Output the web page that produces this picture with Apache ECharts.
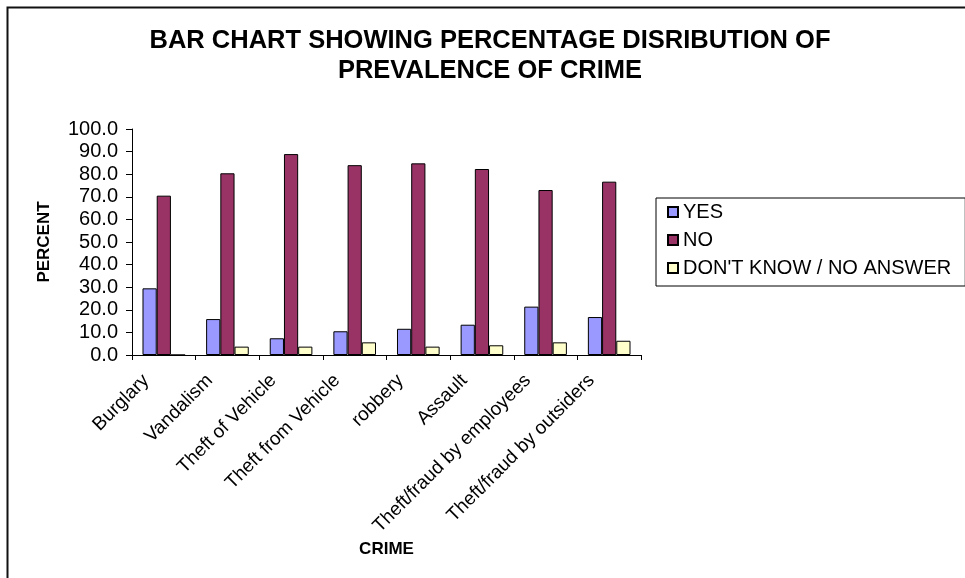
<!DOCTYPE html>
<html>
<head>
<meta charset="utf-8">
<script src="https://cdn.jsdelivr.net/npm/echarts@6/dist/echarts.min.js"></script>
<style>
  html, body { margin: 0; padding: 0; background: #fff; }
  #chart { width: 965px; height: 578px; }
</style>
</head>
<body>
<div id="chart"></div>
<script>
// Crime categories along the x axis
const crimes = [
  'Burglary', 'Vandalism', 'Theft of Vehicle', 'Theft from Vehicle',
  'robbery', 'Assault', 'Theft/fraud by employees', 'Theft/fraud by outsiders'
];
// Percentage of respondents per answer
const yesValues = [29.5, 15.9, 7.4, 10.5, 11.6, 13.4, 21.4, 16.8];
const noValues = [70.5, 80.4, 88.9, 84.0, 84.8, 82.3, 73.0, 76.7];
const dontKnowValues = [0, 3.7, 3.7, 5.6, 3.7, 4.3, 5.6, 6.3];
const seriesNames = ['YES', 'NO', "DON'T KNOW / NO ANSWER"];
const yTicks = { min: 0, max: 100, step: 10 };

const FONT = 'Arial, "Liberation Sans", sans-serif';
const chart = echarts.init(document.getElementById('chart'), null, { renderer: 'canvas' });

function barSeries(name, data, color) {
  return {
    name: name,
    type: 'bar',
    data: data,
    barGap: '0%',
    barCategoryGap: '33%',
    itemStyle: { color: color, borderColor: '#000', borderWidth: 1 },
    emphasis: { disabled: true }
  };
}

chart.setOption({
  animation: false,
  backgroundColor: '#fff',
  title: {
    text: 'BAR CHART SHOWING PERCENTAGE DISRIBUTION OF\nPREVALENCE OF CRIME',
    left: 485,
    top: 21,
    textAlign: 'center',
    textStyle: {
      fontFamily: FONT, fontWeight: 'bold', fontSize: 25.5,
      lineHeight: 30, color: '#000'
    }
  },
  legend: {
    orient: 'vertical',
    left: 656,
    top: 198,
    padding: [4, 14, 8, 11],
    itemGap: 8,
    itemWidth: 10,
    itemHeight: 10,
    icon: 'rect',
    borderColor: '#000',
    borderWidth: 1,
    selectedMode: false,
    data: seriesNames,
    textStyle: { fontFamily: FONT, fontSize: 20, lineHeight: 20, color: '#000' }
  },
  grid: { left: 132, right: 324, top: 129, bottom: 223, containLabel: false },
  xAxis: {
    type: 'category',
    data: crimes,
    name: 'CRIME',
    nameLocation: 'middle',
    nameGap: 186,
    nameMoveOverlap: false,
    nameTextStyle: { fontFamily: FONT, fontWeight: 'bold', fontSize: 17, color: '#000' },
    axisLine: { lineStyle: { color: '#000', width: 1 } },
    axisTick: { show: true, length: 5, lineStyle: { color: '#000' } },
    axisLabel: {
      interval: 0, rotate: 45, margin: 5,
      padding: [0, 25, 0, 0],
      fontFamily: FONT, fontSize: 19, color: '#000'
    },
    splitLine: { show: false }
  },
  yAxis: {
    type: 'value',
    min: yTicks.min,
    max: yTicks.max,
    interval: yTicks.step,
    name: 'PERCENT',
    nameLocation: 'middle',
    nameRotate: 90,
    nameGap: 79,
    nameTextStyle: { fontFamily: FONT, fontWeight: 'bold', fontSize: 17, color: '#000' },
    axisLine: { show: true, lineStyle: { color: '#000', width: 1 } },
    axisTick: { show: true, length: 6, lineStyle: { color: '#000' } },
    axisLabel: {
      margin: 14,
      fontFamily: FONT, fontSize: 20, color: '#000',
      formatter: function (v) { return v.toFixed(1); }
    },
    splitLine: { show: false }
  },
  graphic: [{
    type: 'rect',
    silent: true,
    shape: { x: 7.5, y: 7.5, width: 1000, height: 620 },
    style: { fill: 'none', stroke: '#111', lineWidth: 2 }
  }],
  series: [
    barSeries(seriesNames[0], yesValues, '#9999FF'),
    barSeries(seriesNames[1], noValues, '#993366'),
    barSeries(seriesNames[2], dontKnowValues, '#FFFFCC')
  ]
});
</script>
</body>
</html>
